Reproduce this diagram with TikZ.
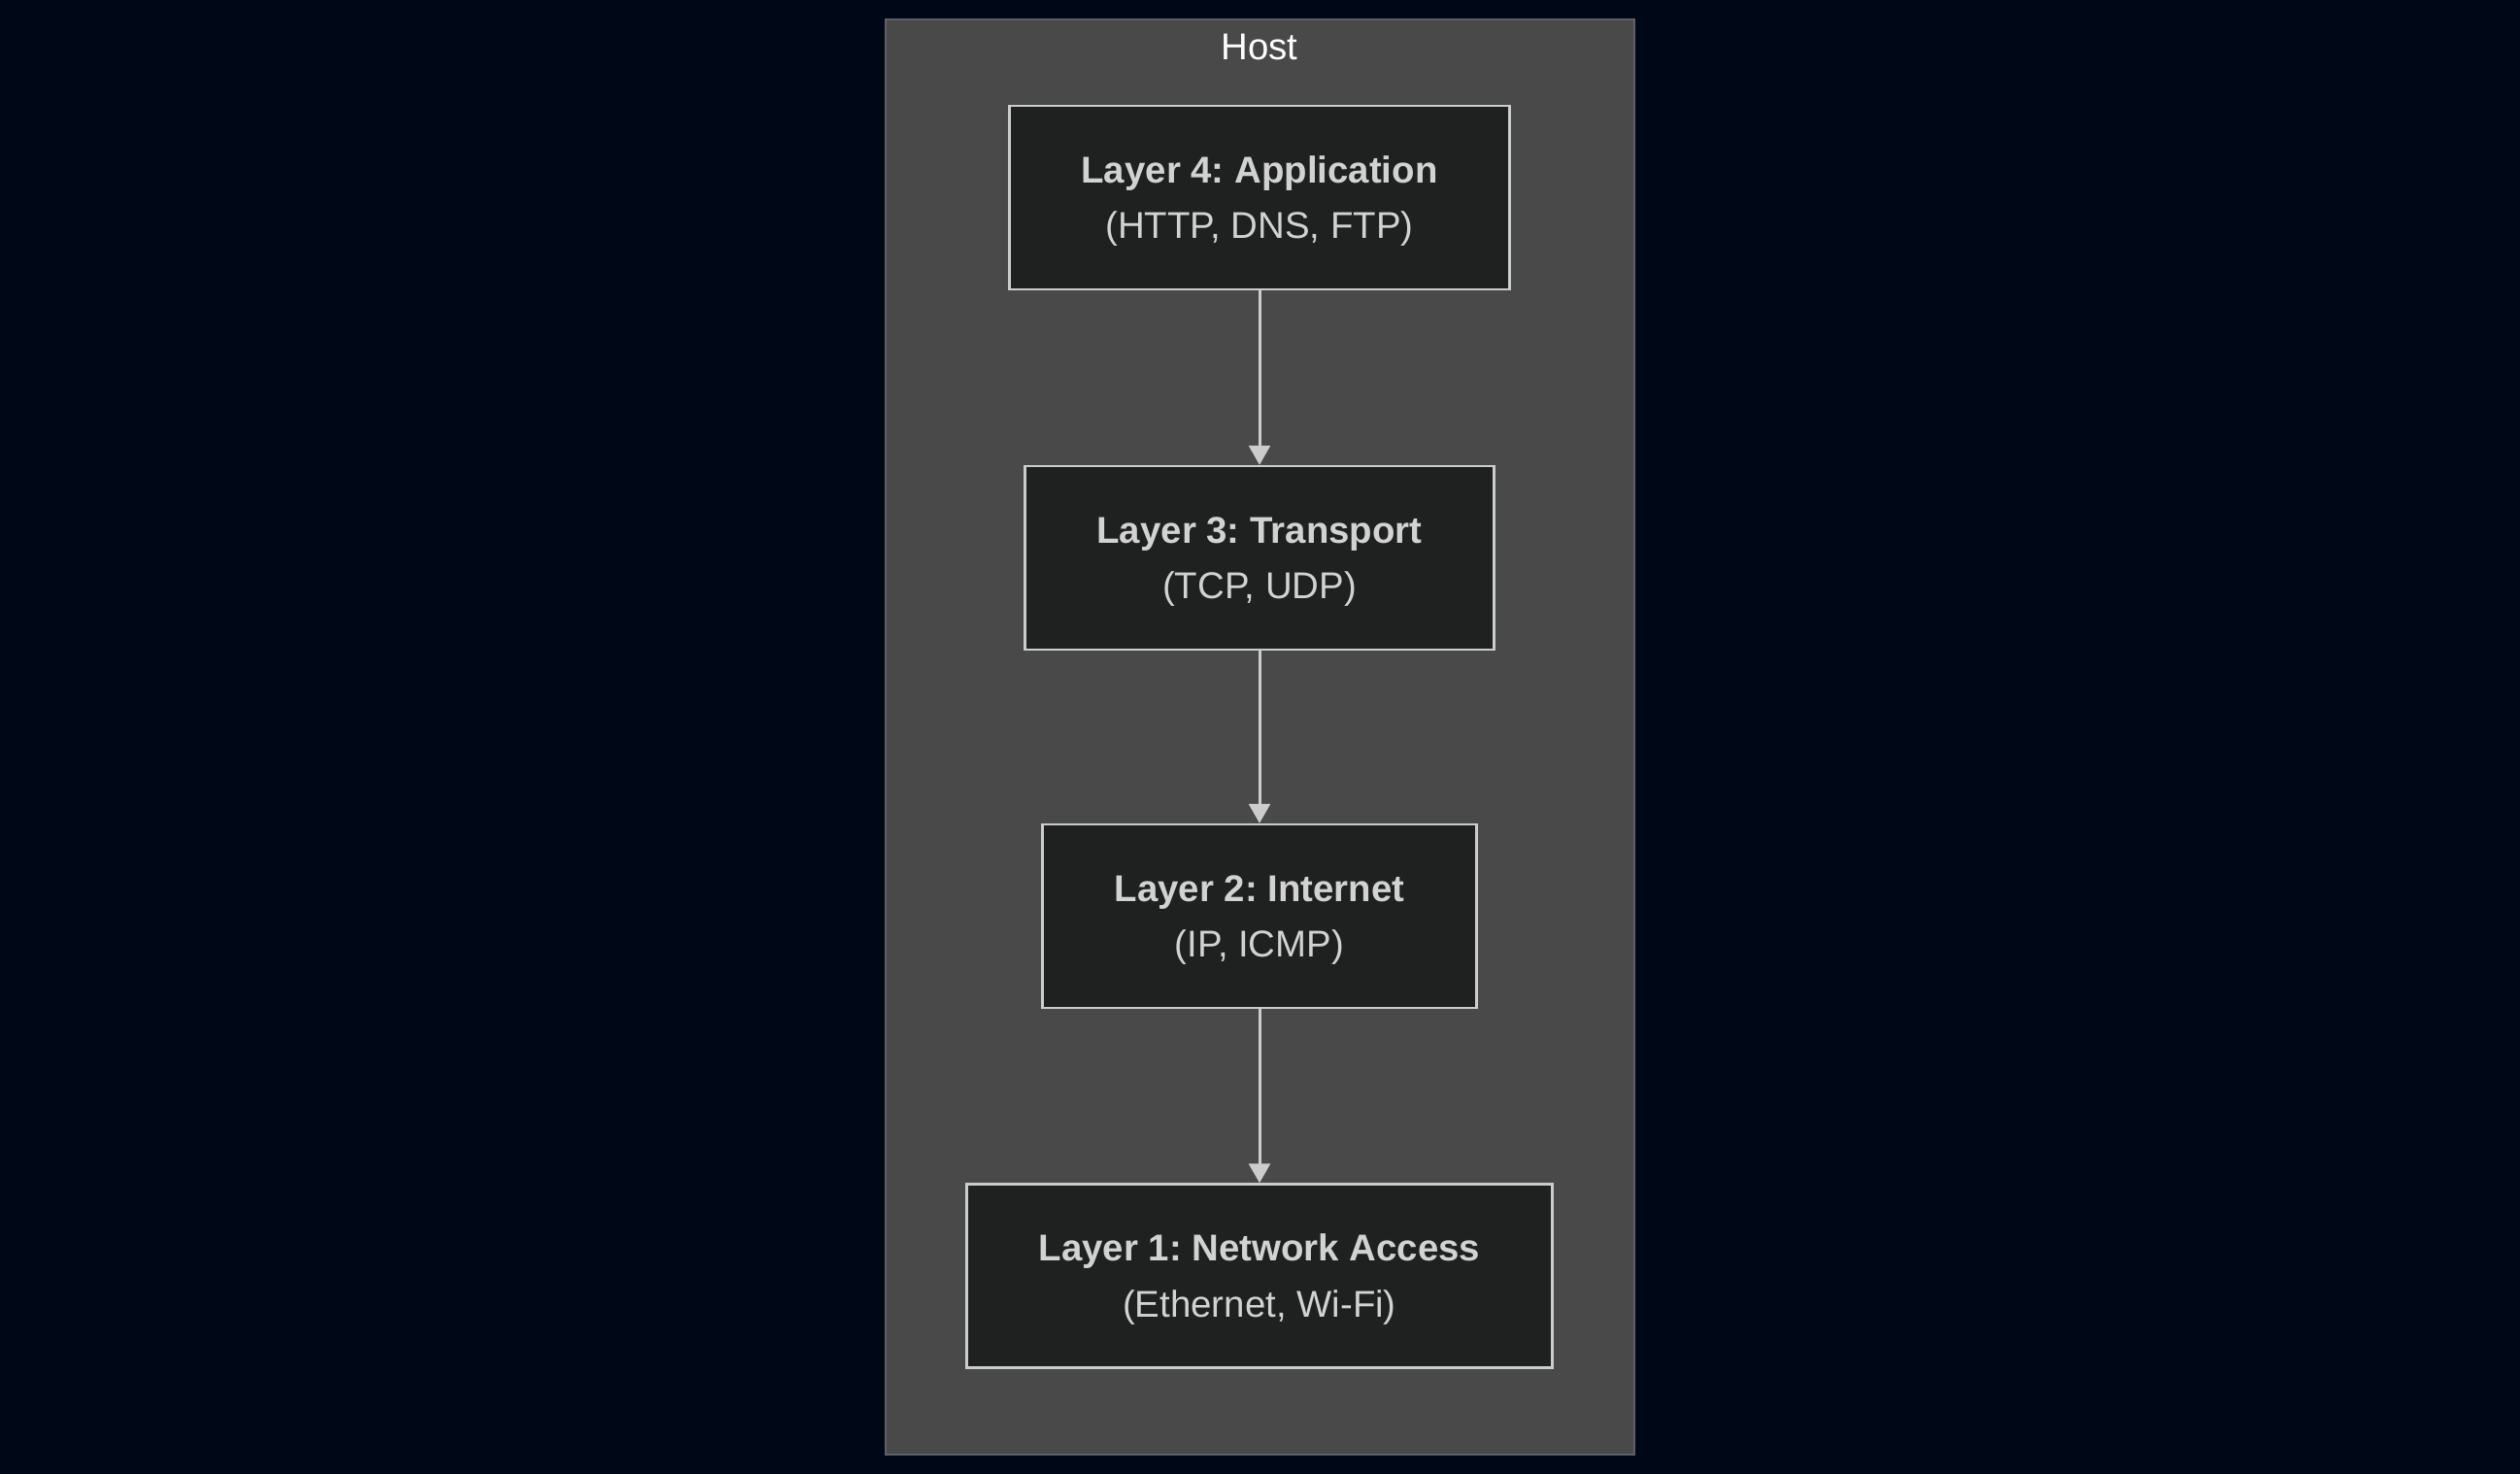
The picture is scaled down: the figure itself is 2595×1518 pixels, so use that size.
\documentclass[tikz,border=0pt]{standalone}
\usepackage{fontspec}
\setmainfont{Liberation Sans}
\usetikzlibrary{arrows.meta}
\definecolor{bgc}{HTML}{000817}
\definecolor{hostfill}{HTML}{484948}
\definecolor{hostline}{HTML}{5E6068}
\definecolor{boxfill}{HTML}{1F2020}
\definecolor{boxline}{HTML}{CCCCCC}
\definecolor{txt}{HTML}{D2D2D2}
\definecolor{arrowc}{HTML}{CCCCCC}
\newcommand{\toplift}{\rule{0pt}{35pt}}
\tikzset{
  layerbox/.style={draw=boxline, line width=2.5pt, fill=boxfill, text=txt, align=center,
    inner sep=0pt, minimum height=189pt, font=\fontsize{38.4}{57.6}\selectfont\frenchspacing},
  flow/.style={draw=arrowc, line width=3pt, -{Triangle[width=22pt,length=20pt]}},
}
\begin{document}
\frenchspacing
\begin{tikzpicture}[x=1pt,y=-1pt]
\useasboundingbox (0,0) rectangle (2595,1518);
\fill[bgc] (0,0) rectangle (2595,1518);
\draw[hostline, fill=hostfill, line width=2.5pt] (912,20) rectangle (1683,1498);
\node[text=white, font=\fontsize{38.4}{46}\selectfont] (host) at (1297,48) {Host};
\node[layerbox, minimum width=515pt] (l4) at (1297,203.5) {\toplift\textbf{Layer 4: Application}\\(HTTP, DNS, FTP)};
\node[layerbox, minimum width=483pt] (l3) at (1297,574.5) {\toplift\textbf{Layer 3: Transport}\\(TCP, UDP)};
\node[layerbox, minimum width=447pt] (l2) at (1297,943.5) {\toplift\textbf{Layer 2: Internet}\\(IP, ICMP)};
\node[layerbox, minimum width=603pt] (l1) at (1297,1314) {\toplift\textbf{Layer 1: Network Access}\\(Ethernet, Wi-Fi)};
\draw[flow] (l4) -- (l3);
\draw[flow] (l3) -- (l2);
\draw[flow] (l2) -- (l1);
\end{tikzpicture}
\end{document}
